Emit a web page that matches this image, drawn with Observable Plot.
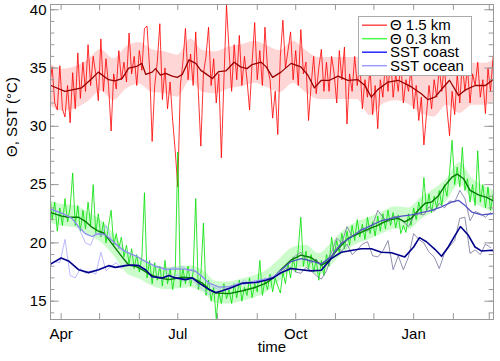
<!DOCTYPE html>
<html><head><meta charset="utf-8">
<script src="https://cdn.jsdelivr.net/npm/d3@7"></script>
<script src="https://cdn.jsdelivr.net/npm/@observablehq/plot@0.6"></script>
<style>
body{margin:0;background:#fff;}
#chart{width:500px;height:361px;}
</style></head><body><div id="chart"></div>
<script>
// Days are counted from 1 April of the first year.
const originDate = Date.UTC(2014, 3, 1);

// Θ 1.5 km raw, every 2 days from day -9
const theta15Start = -9, theta15Step = 2;
const theta15Raw = [
33.5,35.1,32.0,31.4,35.2,31.5,30.8,33.5,30.3,34.6,
31.5,36.3,32.4,35.5,33.0,37.0,33.5,36.0,34.5,32.2,
37.5,33.0,35.8,33.5,29.6,34.5,33.2,36.5,34.0,35.5,
33.8,38.0,34.5,36.0,33.5,36.5,34.8,38.4,38.6,35.0,
28.7,33.5,35.5,38.8,32.3,35.0,31.5,33.8,30.5,27.9,
24.8,33.5,35.5,38.4,34.0,36.2,33.5,38.1,33.0,28.3,
34.5,36.0,38.5,33.5,35.8,32.0,34.5,27.3,34.0,40.4,
36.5,33.0,37.0,34.0,37.8,33.5,36.0,34.0,31.4,35.5,
38.9,34.0,36.5,33.5,38.5,35.0,34.0,30.7,33.0,29.3,
36.0,39.1,35.0,36.5,38.1,34.0,36.5,33.5,38.3,34.5,
35.5,30.5,33.5,36.0,32.8,35.0,36.6,33.0,35.5,33.0,
36.0,34.5,32.0,36.5,34.0,36.8,30.2,34.5,33.0,36.0,
33.5,35.5,31.5,34.0,32.5,35.0,31.0,33.5,29.8,34.0,
32.5,35.5,33.0,36.0,32.5,34.5,33.0,35.5,32.0,34.0,
33.0,35.0,31.5,33.5,30.5,32.5,28.4,31.0,33.5,31.5,
34.0,32.5,35.0,33.0,35.5,31.5,29.2,33.0,31.0,34.5,
32.0,35.5,33.0,35.0,32.0,34.5,33.5,35.5,32.5,34.0,
31.1,35.0,33.0,36.0];

// Θ 0.3 km raw, every 2 days from day -9
const theta03Raw = [
24.5,22.0,23.5,21.0,23.0,21.5,23.8,21.8,23.0,26.0,
21.5,23.2,21.0,22.8,21.2,23.5,21.5,25.0,20.8,22.5,
20.5,21.8,20.0,21.5,22.8,19.8,20.8,19.5,20.5,18.8,
19.8,18.2,19.5,17.8,19.0,17.5,18.8,24.3,17.0,18.5,
16.5,18.3,16.8,18.0,16.3,18.5,16.5,17.8,16.0,17.5,
27.8,16.2,17.8,16.5,18.0,16.3,17.5,23.8,16.0,17.2,
21.7,15.5,16.8,15.0,16.2,13.5,15.8,14.8,16.5,15.2,
16.0,14.8,16.5,15.3,16.8,15.0,16.2,15.5,17.0,15.3,
16.5,15.8,18.5,15.5,16.8,16.0,17.3,15.8,17.0,16.3,
15.7,17.5,16.5,18.2,17.0,18.8,17.5,19.5,22.2,18.0,
19.3,17.8,19.0,17.5,18.6,16.8,18.5,17.2,19.0,18.0,
20.5,19.0,20.2,19.2,20.8,19.5,21.0,19.8,21.5,20.2,
22.0,20.5,21.6,20.3,22.2,20.8,21.8,20.6,22.3,21.0,
22.5,21.2,22.8,21.5,22.6,21.3,22.4,20.8,21.5,20.9,
22.5,21.5,23.0,22.0,23.5,22.5,25.6,22.8,24.2,22.6,
24.0,23.0,24.5,23.2,25.0,24.0,26.0,28.8,25.0,26.5,
24.8,28.2,24.5,25.5,23.5,25.0,23.2,27.9,23.5,25.0,
23.0,24.8,22.8,24.2];

// Dense-band envelope of the hourly data, every 10 days from day -9
const bandStart = -9, bandStep = 10;
const theta15Lo = [31.8,31.3,31.5,32.1,33.0,32.2,33.2,33.6,32.9,32.8,32.5,33.9,32.9,32.8,33.2,33.4,33.7,33.3,32.9,33.7,32.9,32.3,32.3,32.3,32.3,30.9,31.9,32.2,31.9,31.1,30.8,31.8,31.1,31.8,31.8,32.4];
const theta15Hi = [35.4,34.9,35.1,35.7,36.6,35.8,36.8,37.2,36.6,36.4,36.1,37.5,36.5,36.4,36.8,37.0,37.3,36.9,36.5,37.3,36.5,35.9,35.9,35.9,35.9,34.5,35.5,35.9,35.5,34.7,34.4,35.4,34.7,35.4,35.4,36.0];
const theta03Lo = [21.7,21.4,21.3,20.7,20.05,18.9,17.4,16.9,16.3,16.0,16.05,16.15,15.7,14.8,14.75,15.0,15.3,15.8,16.75,17.7,17.9,17.2,18.1,19.2,19.9,20.3,20.8,21.2,21.1,22.0,22.7,23.6,25.0,23.6,22.9,22.5];
const theta03Hi = [23.6,23.3,23.2,22.6,21.95,20.8,19.3,18.8,18.2,17.9,17.95,18.05,17.6,16.7,16.65,16.9,17.2,17.7,18.65,19.6,19.8,19.1,20.0,21.1,21.8,22.2,22.7,23.1,23.0,23.9,24.6,25.5,26.9,25.5,24.8,24.4];

// SST raw, every 4 days from day -9
const sstStart = -9, sstStep = 4;
const sstCoastRaw = [
18.0,18.4,18.3,20.3,17.2,17.0,17.8,17.4,17.6,17.3,
19.2,17.6,18.0,18.3,17.8,18.2,18.0,18.2,17.8,17.5,
17.0,17.2,16.8,17.4,17.0,17.3,16.7,17.1,16.8,16.3,
16.0,15.6,15.8,15.7,16.1,16.0,16.4,16.5,16.8,16.5,
16.8,16.6,17.0,16.8,17.1,
17.3,17.8,17.9,17.5,17.4,17.9,17.6,17.2,16.9,17.6,
18.9,19.6,19.3,19.9,19.0,19.4,19.9,20.1,18.9,18.8,
19.3,20.2,17.7,18.9,17.7,18.8,20.8,20.3,20.0,19.2,
18.8,17.8,19.1,19.7,20.2,22.1,22.2,19.1,19.4,19.0,
19.9,19.6];
const sstOceanRaw = [
23.0,22.7,22.6,22.4,22.2,21.8,21.0,20.0,19.8,20.9,
20.6,21.5,20.3,19.8,19.4,19.3,18.9,18.9,18.5,18.4,
18.1,17.9,17.8,17.6,17.9,17.8,18.0,17.6,17.8,17.3,
17.0,16.4,16.2,16.0,16.3,16.2,16.4,16.6,16.4,16.7,
16.6,16.9,16.8,17.1,17.2,
17.6,18.0,18.5,18.9,19.2,18.6,18.3,18.6,18.0,18.4,
19.2,20.4,20.0,21.4,20.6,20.8,21.3,21.0,21.5,22.8,
22.2,21.8,22.3,22.2,21.8,21.4,22.3,22.5,22.4,23.1,
22.7,23.4,23.0,23.6,23.5,24.5,23.8,21.9,22.7,22.5,
22.2,22.6];

// Smoothed series: day, value
const theta15SmoothDay = [-8,3,16,24,29,37,42,47.5,52.7,59,63,66,71,73.6,77.5,81.5,86.7,90.6,94.5,99.7,105,109,113,118,123,128.5,135,140,145,149,156,160,165,171.5,179.4,187,192.4,197.6,203,209.4,216,223.7,231.6,237,242,247,255,263,273,281,286,291.6,297,303,310,315,323,331,338];
const theta15SmoothVal = [33.5,33.0,33.3,34.1,34.65,34.0,33.9,34.1,35.0,35.15,35.4,34.45,34.65,34.95,34.4,34.55,34.3,34.2,34.45,35.7,35.4,34.8,34.5,34.1,34.7,34.75,35.5,35.1,34.95,35.3,35.5,35.1,34.2,34.65,35.4,35.1,34.4,33.3,33.95,33.95,34.3,33.95,34.0,33.5,32.5,33.15,33.8,33.95,33.4,32.8,32.3,32.5,33.2,33.95,32.65,33.1,33.5,33.5,34.1];

const theta03SmoothDay = [-8,0.5,5.7,13.6,18.8,24,29.2,33.2,37.1,42.3,47.5,52.7,58,63.2,68.4,76.2,84,94.5,102.3,110.2,115.4,120.6,131,141.5,152,159.8,165.5,171,179,187,195,203,208,216,224,232,240,247,255,263,268,273,279,284,289,294,299,305,309,314,319,326,332,339];
const theta03SmoothVal = [22.6,22.3,22.2,22.2,21.85,21.35,21.0,20.85,20.3,19.55,18.8,18.1,18.0,17.7,17.35,17.0,16.85,17.05,17.0,16.55,16.0,15.7,15.65,15.9,16.2,16.55,17.0,17.65,18.5,18.95,18.75,18.1,18.4,19.5,20.4,20.8,21.2,21.5,21.95,22.1,21.8,22.1,22.85,23.4,23.5,24.0,24.85,25.65,25.9,25.5,24.5,24.1,23.9,23.5];

const coastSmoothDay = [-8,0,5.7,13.6,21.4,29.2,37.1,42.3,50.1,55.4,60.6,65.8,71,78.9,84.1,89.3,97.1,102.3,107.6,115.4,120.6,125.8,133.7,141.5,152,159.8,165.5,171.5,179.4,187.2,195,202.9,210.7,218.5,226.3,234.2,242,249.8,257.7,268.1,275,279.5,285,291.6,296.8,302,307.3,311.5,317.7,322.9,328.1,336,339.9];
const coastSmoothVal = [18.2,18.7,18.45,17.7,17.45,17.7,18.05,17.9,18.05,18.1,18.05,17.7,17.1,17.0,17.2,17.0,16.85,17.0,16.55,16.0,15.75,15.9,16.2,16.55,16.6,16.8,17.0,17.45,17.8,17.7,17.6,17.65,18.65,19.2,19.35,19.5,19.5,19.2,19.15,18.8,19.65,20.45,20.1,19.45,18.85,19.65,20.65,21.4,20.65,19.65,19.3,19.37,19.25];

const oceanSmoothDay = [-8,0.5,8.4,13.6,18.8,24,29.2,34.5,39.7,44.9,50.1,58,65.8,73.6,81.5,89.3,97.1,105,110.2,115.4,123.2,131,141.5,152,165.5,171.5,179.4,187.2,195,202.9,210.7,218.5,226.3,234.2,242,249.8,257.7,265.5,273.3,281.2,289,296.8,304.6,309.9,315.1,320.3,328.1,336,339.9];
const oceanSmoothVal = [22.9,22.55,22.1,21.4,20.8,20.55,20.8,20.7,20.2,19.7,19.25,18.9,18.4,18.0,17.75,17.75,17.75,17.55,17.1,16.55,16.2,16.25,16.5,16.7,17.05,17.65,18.4,18.65,18.45,18.2,18.8,19.95,20.5,21.1,21.5,21.9,22.1,22.3,22.4,22.6,22.8,23.1,23.5,23.65,23.2,22.65,22.4,22.5,22.65];

const colorSplitDay = 169;
const yMajor = [15, 20, 25, 30, 35, 40];
const yMinor = d3.range(14, 41);
const xDomainDays = [-8.3, 337.3];
const yDomain = [13.43, 40.45];
const legendLabels = ["Θ 1.5 km", "Θ 0.3 km", "SST coast", "SST ocean"];
const legendColors = ["#ff4c4c", "#4cff4c", "#2626ff", "#9c9cff"];

const toDate = d => new Date(originDate + d * 864e5);
const raw = (vals, start, step) => vals.map((v, i) => ({date: toDate(start + step * i), day: start + step * i, v}));
const smooth = (days, vals) => days.map((d, i) => ({date: toDate(d), day: d, v: vals[i]}));
const band = (lo, hi) => lo.map((v, i) => ({date: toDate(bandStart + bandStep * i), lo: v, hi: hi[i]}));
function split(data) {
  const k = data.findIndex(p => p.day >= colorSplitDay);
  return [data.slice(0, k + 1), data.slice(k)];
}

const red = raw(theta15Raw, theta15Start, theta15Step);
const green = raw(theta03Raw, theta15Start, theta15Step);
const [coastA, coastB] = split(raw(sstCoastRaw, sstStart, sstStep));
const [oceanA, oceanB] = split(raw(sstOceanRaw, sstStart, sstStep));
const [oceanSA, oceanSB] = split(smooth(oceanSmoothDay, oceanSmoothVal));

const W = 500, H = 361, mL = 50, mR = 7, mT = 4, mB = 42;
const plotW = W - mL - mR, plotH = H - mT - mB;
const xDomain = xDomainDays.map(toDate);
const monthTicks = d3.utcMonth.range(xDomain[0], xDomain[1]);
const quarterTicks = monthTicks.filter(d => d.getUTCMonth() % 3 === 0);
const axisGray = "#999";

const L = (data, stroke, strokeWidth, strokeOpacity = 1) =>
  Plot.line(data, {x: "date", y: "v", stroke, strokeWidth, strokeOpacity, clip: true});

const plot = Plot.plot({
  width: W, height: H,
  marginLeft: mL, marginRight: mR, marginTop: mT, marginBottom: mB,
  style: {fontFamily: '"Liberation Sans", Arial, sans-serif', fontSize: "15px", background: "white", color: "black"},
  x: {type: "utc", domain: xDomain},
  y: {domain: yDomain},
  marks: [
    Plot.areaY(band(theta15Lo, theta15Hi), {x: "date", y1: "lo", y2: "hi", fill: "#ff0000", fillOpacity: 0.16, curve: "monotone-x", clip: true}),
    Plot.areaY(band(theta03Lo, theta03Hi), {x: "date", y1: "lo", y2: "hi", fill: "#00ee00", fillOpacity: 0.2, curve: "monotone-x", clip: true}),
    L(red, "#ff0000", 1, 0.8),
    L(green, "#00e000", 1, 0.8),
    L(coastA, "#a8a8ff", 0.8),
    L(oceanA, "#a8a8ff", 0.8),
    L(coastB, "#72729a", 0.8),
    L(oceanB, "#72729a", 0.8),
    L(smooth(theta03SmoothDay, theta03SmoothVal), "#007d00", 1.4),
    L(smooth(theta15SmoothDay, theta15SmoothVal), "#9a0000", 1.3),
    L(oceanSA, "#8c8cec", 1.3),
    L(oceanSB, "#5252c4", 1.3),
    L(smooth(coastSmoothDay, coastSmoothVal), "#00008c", 1.6),
    Plot.frame({stroke: axisGray}),
    Plot.ruleX(monthTicks, {x: d => d, insetTop: plotH - 6, stroke: axisGray}),
    Plot.ruleX(monthTicks, {x: d => d, insetBottom: plotH - 6, stroke: axisGray}),
    Plot.ruleY(yMinor, {y: d => d, insetRight: plotW - 4.3, stroke: axisGray}),
    Plot.ruleY(yMinor, {y: d => d, insetLeft: plotW - 4.3, stroke: axisGray}),
    Plot.ruleY(yMajor, {y: d => d, insetRight: plotW - 8.7, stroke: axisGray}),
    Plot.ruleY(yMajor, {y: d => d, insetLeft: plotW - 8.7, stroke: axisGray}),
    Plot.axisX(quarterTicks, {tickSize: 0, tickPadding: 8.5, tickFormat: d3.utcFormat("%b"), label: null}),
    Plot.axisY(yMajor, {tickSize: 0, tickPadding: 4, label: null}),
    Plot.text(["time"], {frameAnchor: "bottom", dy: 32, text: d => d}),
    Plot.text(["Θ, SST (°C)"], {frameAnchor: "left", dx: -38, dy: -5, rotate: -90, text: d => d})
  ]
});

// legend box (upper right, inside the frame)
const svg = d3.select(plot);
const lg = svg.append("g").attr("font-size", 15).attr("text-anchor", "start");
lg.append("rect").attr("x", 358.5).attr("y", 16.5).attr("width", 113).attr("height", 59)
  .attr("fill", "white").attr("stroke", "#aaa");
legendLabels.forEach((t, i) => {
  const cy = 25.2 + i * 13.5;
  lg.append("line").attr("x1", 362).attr("x2", 387).attr("y1", cy).attr("y2", cy)
    .attr("stroke", legendColors[i]).attr("stroke-width", 1.5);
  lg.append("text").attr("x", 390).attr("y", cy).attr("dy", "0.35em")
    .attr("text-anchor", "start").attr("fill", "black").text(t);
});

document.getElementById("chart").append(plot);
</script></body></html>
